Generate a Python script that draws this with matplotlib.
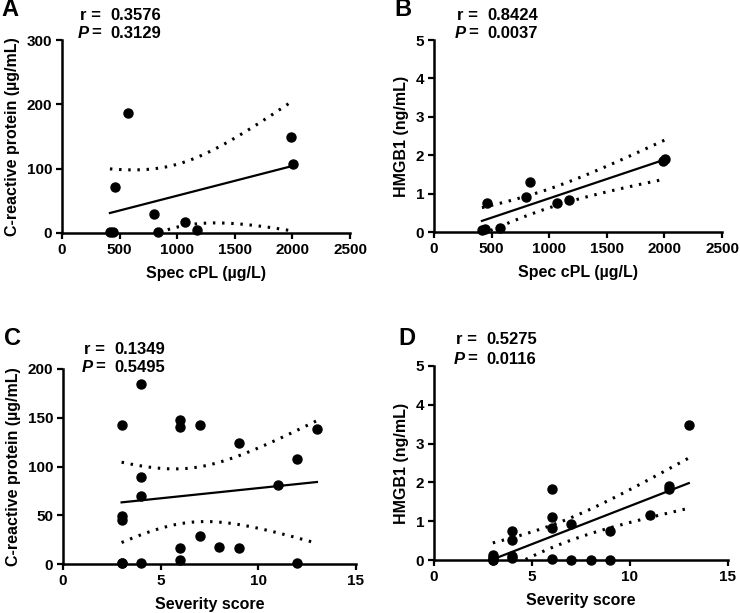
import numpy as np
import matplotlib.pyplot as plt

plt.rcParams['font.family'] = ['Liberation Sans', 'DejaVu Sans']
plt.rcParams['font.weight'] = 'bold'

# Spec cPL vs CRP / HMGB1 (n = 10)
cpl = [416, 445, 457, 575, 802, 837, 1065, 1170, 1989, 2001]
crp_a = [1, 1, 71, 186, 29, 1, 17, 5, 150, 108]
hmgb1_b = [0.04, 0.07, 0.75, 0.11, 0.92, 1.30, 0.75, 0.83, 1.84, 1.91]

# Severity score vs CRP / HMGB1 (n = 22)
severity = [3, 3, 3, 3, 3, 4, 4, 4, 4, 6, 6, 6, 6, 7, 7, 8, 9, 9, 11, 12, 12, 13]
crp_c = [143, 49, 45, 1.5, 1.5, 185, 89, 70, 1, 148, 141, 16, 4, 143, 28.5, 17,
         124, 16, 81, 108, 1.5, 138.5]
hmgb1_d = [0.13, 0.07, 0.03, 0.0, 0.0, 0.75, 0.52, 0.11, 0.06, 1.83, 1.10, 0.83,
           0.03, 0.93, 0.0, 0.0, 0.74, 0.0, 1.15, 1.90, 1.84, 3.47]

stats_r = ['0.3576', '0.8424', '0.1349', '0.5275']
stats_p = ['0.3129', '0.0037', '0.5495', '0.0116']

W, H = 740, 613


def fx(px):
    return px / W


def fy(py):
    return 1 - py / H


def regression(ax, x, y, tcrit):
    x = np.asarray(x, float)
    y = np.asarray(y, float)
    n = len(x)
    b, a = np.polyfit(x, y, 1)
    xs = np.linspace(x.min(), x.max(), 200)
    yh = a + b * xs
    resid = y - (a + b * x)
    s = np.sqrt(np.sum(resid ** 2) / (n - 2))
    sxx = np.sum((x - x.mean()) ** 2)
    half = tcrit * s * np.sqrt(1 / n + (xs - x.mean()) ** 2 / sxx)
    ax.plot(xs, yh, color='black', lw=1.6)
    for band in (yh + half, yh - half):
        ax.plot(xs, band, color='black', lw=2.2, linestyle=(0, (0.8, 2.2)))
    ax.plot(x, y, 'o', color='black', ms=6.5, clip_on=False, zorder=5)


def style(ax, xlim, xticks, ylim, yticks, xlabel, ylabel):
    ax.set_xlim(*xlim)
    ax.set_ylim(*ylim)
    ax.set_xticks(xticks)
    ax.set_yticks(yticks)
    ax.spines['top'].set_visible(False)
    ax.spines['right'].set_visible(False)
    for sp in ('left', 'bottom'):
        ax.spines[sp].set_linewidth(1.8)
    ax.tick_params(width=1.6, length=4, labelsize=11, pad=3)
    for lab in ax.get_xticklabels() + ax.get_yticklabels():
        lab.set_fontweight('bold')
    ax.set_xlabel(xlabel, fontsize=11.5, fontweight='bold', labelpad=7)
    ax.set_ylabel(ylabel, fontsize=11.5, fontweight='bold', labelpad=5)


fig = plt.figure(figsize=(W / 100, H / 100), dpi=100)

axA = fig.add_axes([fx(62), fy(233), fx(288), 193 / H])
axB = fig.add_axes([fx(434), fy(232), fx(288), 192 / H])
axC = fig.add_axes([fx(63), fy(564), fx(293), 195 / H])
axD = fig.add_axes([fx(434), fy(560), fx(294), 194 / H])

regression(axA, cpl, crp_a, 2.306)
style(axA, (0, 2500), [0, 500, 1000, 1500, 2000, 2500], (0, 300), [0, 100, 200, 300],
      'Spec cPL (\u00b5g/L)', 'C-reactive protein (\u00b5g/mL)')

regression(axB, cpl, hmgb1_b, 2.306)
style(axB, (0, 2500), [0, 500, 1000, 1500, 2000, 2500], (0, 5), [0, 1, 2, 3, 4, 5],
      'Spec cPL (\u00b5g/L)', 'HMGB1 (ng/mL)')

regression(axC, severity, crp_c, 2.086)
style(axC, (0, 15), [0, 5, 10, 15], (0, 200), [0, 50, 100, 150, 200],
      'Severity score', 'C-reactive protein (\u00b5g/mL)')

regression(axD, severity, hmgb1_d, 2.086)
style(axD, (0, 15), [0, 5, 10, 15], (0, 5), [0, 1, 2, 3, 4, 5],
      'Severity score', 'HMGB1 (ng/mL)')

# panel letters and statistics: (letter x, letter y, eq right x, r y, p y)
labels = ['A', 'B', 'C', 'D']
pos = [(1, 10, 101, 15, 33), (394, 10, 478, 15, 33),
       (4, 339, 105, 349, 367), (398, 339, 477, 340, 359)]
for i, (lx, ly, ex, ry, py) in enumerate(pos):
    fig.text(fx(lx), fy(ly), labels[i], fontsize=17, fontweight='bold',
             ha='left', va='center')
    fig.text(fx(ex), fy(ry), 'r =', fontsize=12, fontweight='bold', ha='right', va='center')
    fig.text(fx(ex), fy(py), '=', fontsize=12, fontweight='bold', ha='right', va='center')
    fig.text(fx(ex - 12), fy(py), 'P', fontsize=12, fontweight='bold', style='italic',
             ha='right', va='center')
    fig.text(fx(ex + 9), fy(ry), stats_r[i], fontsize=12, fontweight='bold',
             ha='left', va='center')
    fig.text(fx(ex + 9), fy(py), stats_p[i], fontsize=12, fontweight='bold',
             ha='left', va='center')

fig.savefig('out.png', dpi=100)
